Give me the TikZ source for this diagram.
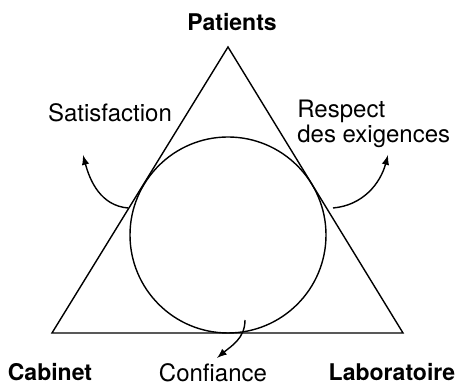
\documentclass[tikz,border=0pt]{standalone}
\usepackage{fontspec}
\setmainfont{TeX Gyre Heros}
\usepackage{tikz}
\tikzset{>=latex}
\usetikzlibrary{calc,positioning}

\begin{document}
\begin{tikzpicture}[x=0.5pt,y=0.5pt,line width=0.7pt,
    lbl/.style={font=\fontsize{12}{12.5}\selectfont},
    pole/.style={font=\fontsize{11.5}{12.5}\selectfont\bfseries}]
                    \useasboundingbox (0,0) rectangle (456,384);
                    % triangle and circle
                    \coordinate (patients) at (228,337);
                    \coordinate (cabinet) at (52,51);
                    \coordinate (labo) at (403,51);
                    \coordinate (centre) at (228,149);
                    \draw (patients) -- (cabinet) -- (labo) -- cycle;
                    \draw (centre) circle (98);

                    % labels
                    \node[pole] (patientsLbl) at (232,362) {Patients};
                    \node[pole] (cabinetLbl) at (50,12) {Cabinet};
                    \node[pole] (laboLbl) at (392,12) {Laboratoire};
                    \node[lbl] (satisf) at (110,271) {Satisfaction};
                    \node[lbl,align=left,anchor=west] (respect) at (290,260) {Respect\\des exigences};
                    \node[lbl] (confiance) at (213,11) {Confiance};

                    % arrows
                    \coordinate (satA) at (128,176);
                    \coordinate (satB) at (83,229);
                    \coordinate (resA) at (333,176);
                    \coordinate (resB) at (388,229);
                    \coordinate (confA) at (245,64);
                    \coordinate (confB) at (217,26);
                    \draw[->] (satA) to[out=175,in=-75] (satB);
                    \draw[->] (resA) to[out=5,in=-105] (resB);
                    \draw[->] (confA) to[out=-90,in=40] (confB);
                \end{tikzpicture}
\end{document}
